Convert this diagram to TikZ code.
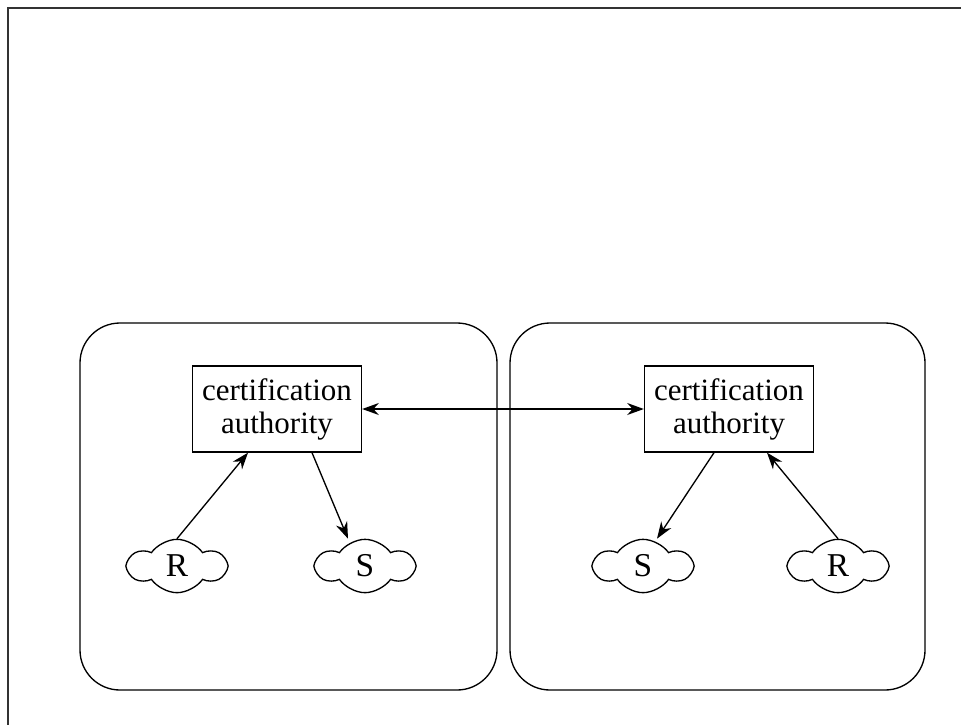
\documentclass[tikz,border=0pt]{standalone}
\usepackage{fontspec}
\setmainfont{Liberation Serif}
\usetikzlibrary{shapes.symbols,arrows.meta}

\begin{document}
\begin{tikzpicture}[scale=0.105438,>={Stealth[length=5pt,width=3.6pt]},
  every node/.style={font=\fontsize{9.3}{9.9}\selectfont},
  realmbox/.style={rounded corners=12pt},
  authority/.style={draw,align=center,minimum width=50.7pt,minimum height=25.8pt,inner sep=0pt},
  party/.style={cloud,draw,cloud puffs=6,cloud puff arc=110,aspect=1.9,minimum width=29pt,minimum height=16pt,inner sep=0.5pt,font=\fontsize{10}{12}\selectfont}]
\useasboundingbox (0,0) rectangle (96.1,72.5);
\draw[line width=0.65pt,black!80] (96.1,71.7) -- (0.8,71.7) -- (0.8,0);
\draw[realmbox] (8,3.5) rectangle (49.7,40.2);
\draw[realmbox] (51,3.5) rectangle (92.5,40.2);
\node[authority] (caL) at (27.7,31.6) {certification\\authority};
\node[authority] (caR) at (72.9,31.6) {certification\\authority};
\node[party] (rL) at (17.7,15.9) {R};
\node[party] (sL) at (36.5,15.9) {S};
\node[party] (sR) at (64.3,15.9) {S};
\node[party] (rR) at (83.8,15.9) {R};
\draw[<->] (caL) -- (caR);
\draw[->] (rL.north) -- ([xshift=-2.9cm]caL.south);
\draw[->] ([xshift=3.5cm]caL.south) -- ([xshift=-1.7cm]sL.north);
\draw[->] ([xshift=-1.5cm]caR.south) -- ([xshift=1.4cm]sR.north);
\draw[->] (rR.north) -- ([xshift=3.8cm]caR.south);
\end{tikzpicture}
\end{document}
